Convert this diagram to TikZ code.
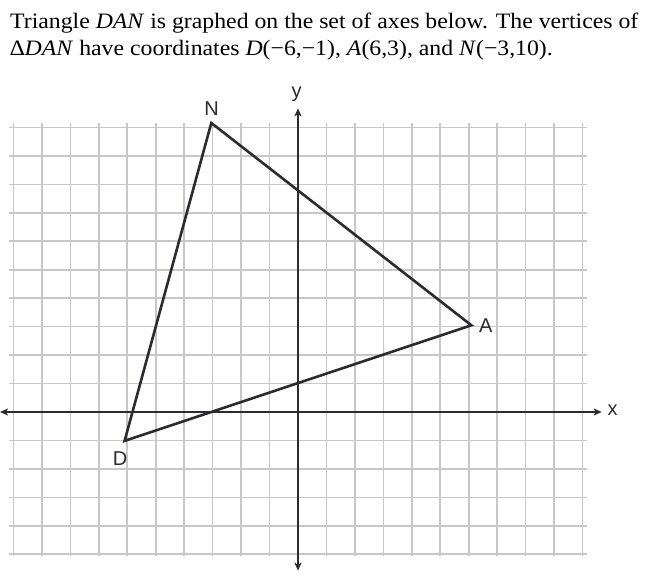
\documentclass[tikz,border=0pt]{standalone}
\usepackage{fontspec}
\setmainfont{Liberation Serif}
\newfontfamily\titlefont[FakeStretch=1.08]{Liberation Serif}
\newfontfamily\labelfont{Liberation Sans}
\usetikzlibrary{arrows.meta}
\definecolor{ink}{HTML}{2B2B30}
\definecolor{gridgray}{HTML}{C8C8C8}
\tikzset{
  gridline/.style={draw=gridgray, line width=1.6pt},
  axisline/.style={draw=ink, line width=2pt, {Stealth[length=8pt,width=7pt,inset=2pt]}-{Stealth[length=8pt,width=7pt,inset=2pt]}},
  edge/.style={draw=ink, line width=2.6pt, line join=miter},
  vlabel/.style={font=\labelfont\fontsize{20}{20}\selectfont, text=ink, inner sep=0pt},
  title/.style={font=\titlefont\fontsize{22}{26}\selectfont, anchor=base west, inner sep=0pt}
}
\begin{document}
\begin{tikzpicture}[x=28.9pt,y=28.9pt]
\useasboundingbox (-298pt,-168pt) rectangle (353pt,412pt);
% title
\node[title] (t1) at (-288pt,383pt) {Triangle \textit{DAN} is graphed on the set of axes below. The vertices of};
\node[title] (t2) at (-288pt,356pt) {∆\textit{DAN} have coordinates \textit{D}(−6,−1), \textit{A}(6,3), and \textit{N}(−3,10).};
% grid
\draw[gridline] (-10,-5) grid (10,10);
% axes
\coordinate (xl) at (-298pt,0);
\coordinate (xr) at (303.7pt,0);
\coordinate (yb) at (0,-158.7pt);
\coordinate (yt) at (0,303.7pt);
\draw[axisline] (xl) -- (xr);
\draw[axisline] (yb) -- (yt);
\node[vlabel] (xlab) at (314.7pt,1.3pt) {x};
\node[vlabel] (ylab) at (-1.3pt,318pt) {y};
% triangle
\coordinate (D) at (-6,-1);
\coordinate (A) at (6,3);
\coordinate (N) at (-3,10);
\draw[edge] (D) -- (A) -- (N) -- cycle;
\node[vlabel] (Dl) at (-178pt,-46.3pt) {D};
\node[vlabel] (Al) at (187.7pt,86.7pt) {A};
\node[vlabel] (Nl) at (-86.3pt,303pt) {N};
\end{tikzpicture}
\end{document}
